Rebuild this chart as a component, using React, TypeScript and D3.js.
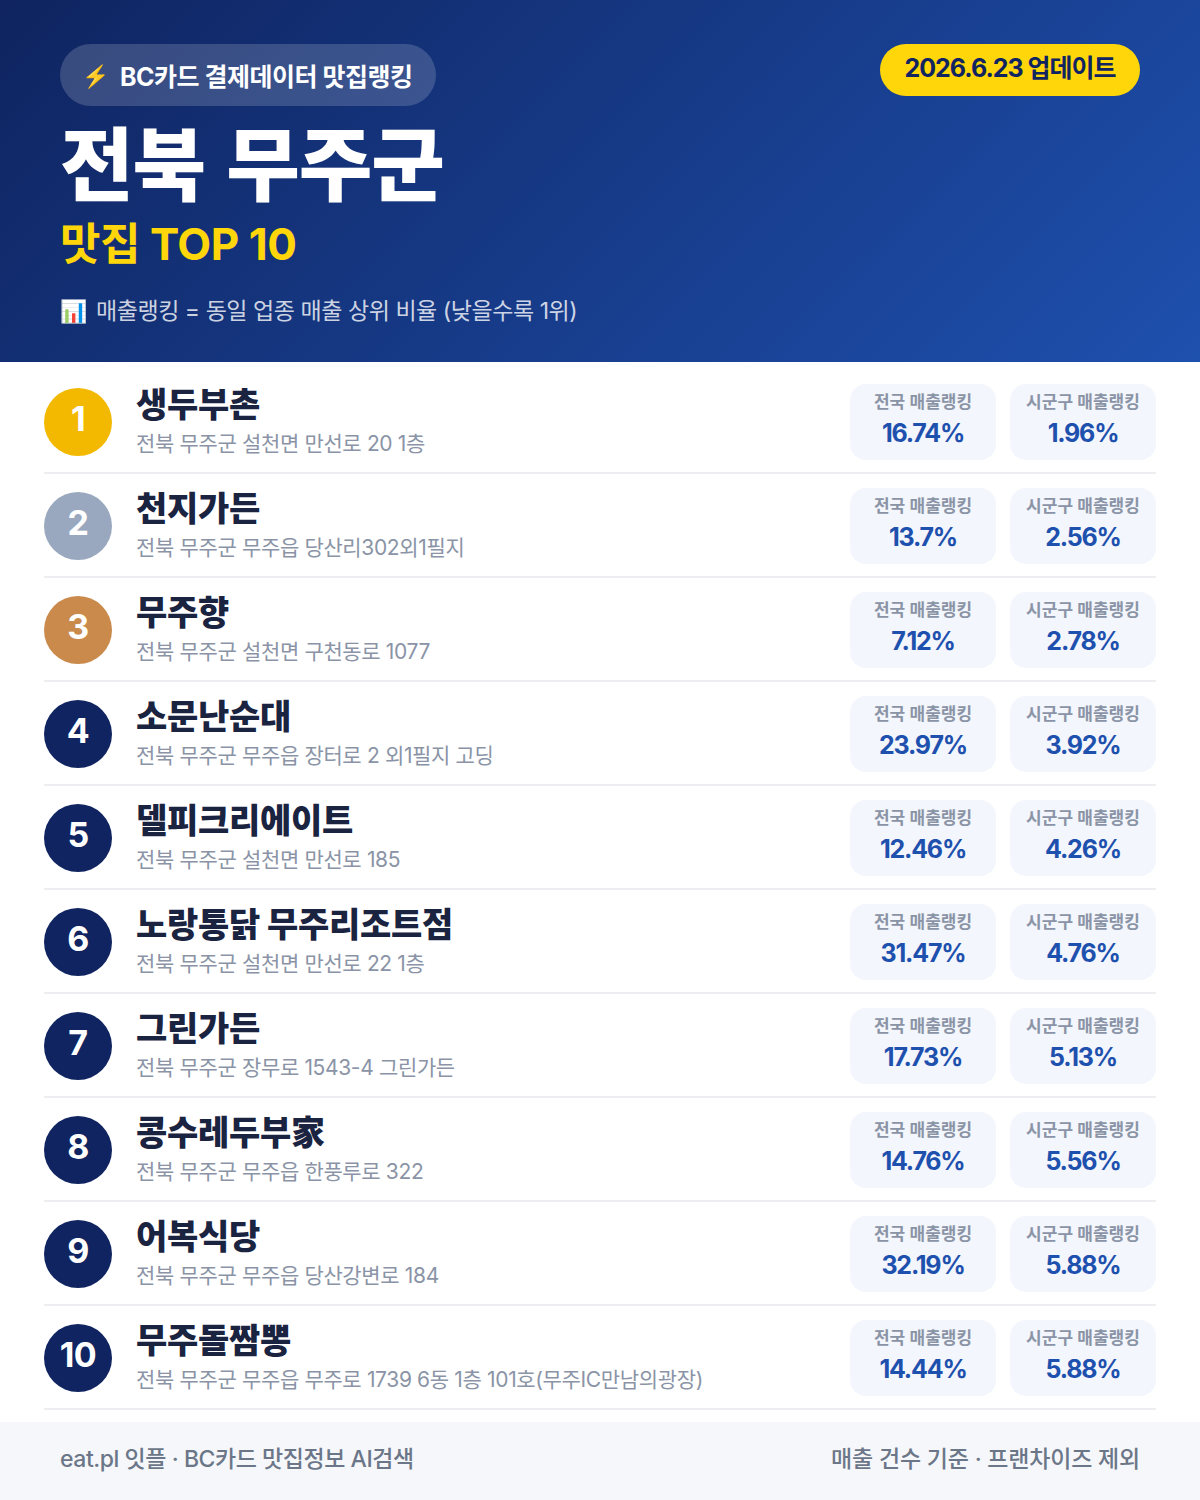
import React from "react";
import * as d3 from "d3";

const names = ["생두부촌", "천지가든", "무주향", "소문난순대", "델피크리에이트", "노랑통닭 무주리조트점", "그린가든", "콩수레두부家", "어복식당", "무주돌짬뽕"];
const addresses = [
  "전북 무주군 설천면 만선로 20 1층",
  "전북 무주군 무주읍 당산리302외1필지",
  "전북 무주군 설천면 구천동로 1077",
  "전북 무주군 무주읍 장터로 2 외1필지 고딩",
  "전북 무주군 설천면 만선로 185",
  "전북 무주군 설천면 만선로 22 1층",
  "전북 무주군 장무로 1543-4 그린가든",
  "전북 무주군 무주읍 한풍루로 322",
  "전북 무주군 무주읍 당산강변로 184",
  "전북 무주군 무주읍 무주로 1739 6동 1층 101호(무주IC만남의광장)",
];
const nationalRank = ["16.74%", "13.7%", "7.12%", "23.97%", "12.46%", "31.47%", "17.73%", "14.76%", "32.19%", "14.44%"];
const localRank = ["1.96%", "2.56%", "2.78%", "3.92%", "4.26%", "4.76%", "5.13%", "5.56%", "5.88%", "5.88%"];
const ranks = d3.range(1, 11);
const medalColors = ["#f2b900", "#9aa8bf", "#c98a4b"];
const F = "Inter, 'Noto Sans CJK KR', sans-serif";

export default function App() {
  const y = d3.scaleBand<number>().domain(ranks).range([370, 1410]);
  return (
    <svg width={1200} height={1500} viewBox="0 0 1200 1500" style={{ position: "absolute", left: 0, top: 0 }} fontFamily={F}>
      <defs>
        <linearGradient id="hdr" gradientUnits="userSpaceOnUse" x1="210" y1="-209" x2="990" y2="571">
          <stop offset="0" stopColor="#0f2460" />
          <stop offset="1" stopColor="#1e50ae" />
        </linearGradient>
      </defs>
      <rect width={1200} height={1500} fill="#fff" />
      <rect width={1200} height={362} fill="url(#hdr)" />
      <rect x={60} y={44} width={376} height={62} rx={31} fill="#fff" fillOpacity={0.17} />
      <text x={82} y={84} fontSize={22}>⚡</text>
      <text x={120} y={86} fontSize={25} fontWeight={700} fill="#fff" letterSpacing={-0.5}>BC카드 결제데이터 맛집랭킹</text>
      <rect x={880} y={44} width={260} height={52} rx={26} fill="#ffd60a" />
      <text x={1010} y={77} fontSize={25} fontWeight={700} fill="#0f2460" textAnchor="middle" letterSpacing={-1}>2026.6.23 업데이트</text>
      <text x={60} y={194} fontSize={80} fontWeight={900} fill="#fff" letterSpacing={-1} wordSpacing={6}>전북 무주군</text>
      <text x={60} y={260} fontSize={44} fontWeight={700} fill="#ffd60a" letterSpacing={-0.5}>맛집 TOP 10</text>
      <text x={60} y={319} fontSize={22}>📊</text>
      <text x={96} y={319} fontSize={23} fill="#fff" fillOpacity={0.8} letterSpacing={-0.45}>매출랭킹 = 동일 업종 매출 상위 비율 (낮을수록 1위)</text>
      {ranks.map((r, i) => {
        const t = y(r)!;
        const cy = t + 52;
        return (
          <g key={r}>
            <circle cx={78} cy={cy} r={34} fill={medalColors[i] ?? "#0f2460"} />
            <text x={78} y={cy + 9} fontSize={34} fontWeight={700} fill="#fff" textAnchor="middle" letterSpacing={-0.5}>{r}</text>
            <text x={136} y={t + 47} fontSize={34} fontWeight={800} fill="#1a2340" letterSpacing={-0.3}>{names[i]}</text>
            <text x={136} y={t + 81} fontSize={21} fill="#8a94a6" letterSpacing={-0.35}>{addresses[i]}</text>
            <rect x={44} y={t + 102} width={1112} height={2} fill="#eceef2" />
            {[[850, "전국 매출랭킹", nationalRank[i]], [1010, "시군구 매출랭킹", localRank[i]]].map(([x, label, value]) => (
              <g key={label as string}>
                <rect x={x as number} y={t + 14} width={146} height={76} rx={16} fill="#f3f6fc" />
                <text x={(x as number) + 73} y={t + 37.5} fontSize={17} fontWeight={600} fill="#8a94a6" textAnchor="middle">{label}</text>
                <text x={(x as number) + 73} y={t + 71.5} fontSize={25} fontWeight={700} fill="#1e50ae" textAnchor="middle" letterSpacing={-1.2}>{value}</text>
              </g>
            ))}
          </g>
        );
      })}
      <rect y={1422} width={1200} height={78} fill="#f6f7fa" />
      <text x={60} y={1467} fontSize={23} fontWeight={500} fill="#6b7688" letterSpacing={-0.45}>eat.pl 잇플 · BC카드 맛집정보 AI검색</text>
      <text x={1140} y={1467} fontSize={23} fontWeight={500} fill="#6b7688" textAnchor="end" letterSpacing={-0.2}>매출 건수 기준 · 프랜차이즈 제외</text>
    </svg>
  );
}
